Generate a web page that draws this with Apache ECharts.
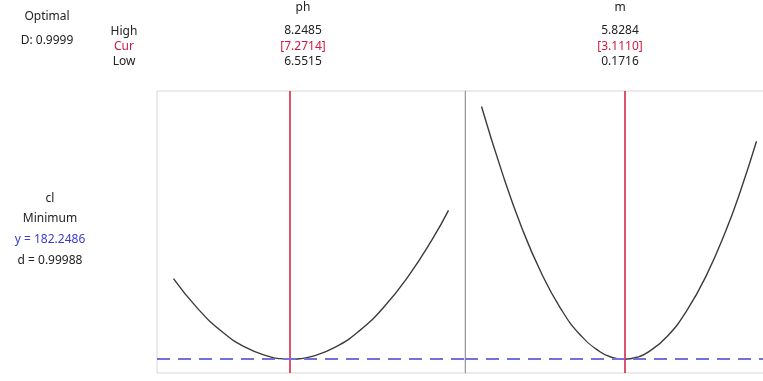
<!DOCTYPE html>
<html>
<head>
<meta charset="utf-8">
<script src="https://cdn.jsdelivr.net/npm/echarts@6/dist/echarts.min.js"></script>
<style>
  html, body { margin: 0; padding: 0; background: #fff; }
  #chart { width: 763px; height: 381px; }
</style>
</head>
<body>
<div id="chart"></div>
<script>
// Factor settings
const factorNames = ['ph', 'm'];
const highVals = [8.2485, 5.8284];
const curVals = [7.2714, 3.1110];
const lowVals = [6.5515, 0.1716];

// Predicted response cl along each factor (other factor held at its current setting)
const phPoints = [6.5515, 6.70, 6.85, 7.00, 7.15, 7.21, 7.2714, 7.33, 7.40, 7.55, 7.70, 7.85, 8.00, 8.15, 8.2485];
const clAlongPh = [278.7, 243.1, 215.4, 196.0, 185.0, 182.95, 182.2486, 182.89, 185.3, 196.7, 216.5, 244.7, 281.3, 326.2, 360.3];
const mPoints = [0.1716, 0.6, 1.0, 1.4, 1.8, 2.2, 2.6, 2.85, 3.1110, 3.37, 3.6, 4.0, 4.4, 4.8, 5.2, 5.5, 5.8284];
const clAlongM = [484.5, 404.8, 339.6, 285.6, 242.9, 211.5, 191.5, 184.65, 182.2486, 184.6, 190.7, 210.1, 240.9, 282.9, 336.3, 383.7, 442.9];

// Response summary
const responseName = 'cl';
const goal = 'Minimum';
const yOpt = 182.2486;
const dIndividual = 0.99988;
const dComposite = 0.9999;

// Shared response axis range
const yRange = [165.8, 503.0];

const FONT = 'Noto Sans';
const W = 763;
const PANEL_W = 308;
const panelLeft = [157, 465];

const chart = echarts.init(document.getElementById('chart'));

// Width actually laid out for a panel: the last one runs past the page edge,
// so its right border stays out of view.
function panelWidth(i) {
  return Math.min(PANEL_W, W - panelLeft[i] + 1);
}

// Each factor axis runs from low to high with 6% padding on both sides of a full panel.
function xRange(i) {
  const span = highVals[i] - lowVals[i];
  const min = lowVals[i] - 0.06 * span;
  const full = 1.12 * span;
  return [min, min + full * panelWidth(i) / PANEL_W];
}

const grids = panelLeft.map((l, i) => ({
  left: l, top: 91, width: panelWidth(i), height: 282,
  outerBoundsMode: 'none', containLabel: false,
  show: true, borderColor: '#d6d6d6', borderWidth: 1, backgroundColor: '#fff'
}));

const xAxes = [0, 1].map(i => ({
  type: 'value', gridIndex: i, min: xRange(i)[0], max: xRange(i)[1],
  axisLine: { show: false, onZero: false }, axisTick: { show: false }, axisLabel: { show: false }, splitLine: { show: false }
}));
// The divider between the two panels is the second panel's response axis line
const yAxes = [0, 1].map(i => ({
  type: 'value', gridIndex: i, min: yRange[0], max: yRange[1],
  axisLine: { show: i === 1, onZero: false, lineStyle: { color: '#9c9c9c', width: 1 } },
  axisTick: { show: false }, axisLabel: { show: false }, splitLine: { show: false }
}));

function curveSeries(i, xs, ys) {
  return {
    type: 'line', xAxisIndex: i, yAxisIndex: i, smooth: true, symbol: 'none',
    data: xs.map((x, k) => [x, ys[k]]),
    lineStyle: { color: '#3c3c3c', width: 1.4 },
    markLine: {
      silent: true, symbol: 'none', label: { show: false },
      data: [
        { xAxis: curVals[i], lineStyle: { color: '#d3183e', width: 1.5, type: 'solid' } },
        { yAxis: yOpt, lineStyle: { color: '#7272d8', width: 2, type: [13, 8] } }
      ]
    },
    z: 3
  };
}

function txt(x, y, s, color, size) {
  return { type: 'text', x: x, y: y, style: { text: s, fill: color || '#222', font: (size || 12) + 'px "' + FONT + '"', textAlign: 'center', textVerticalAlign: 'middle' } };
}

const fmt4 = v => v.toFixed(4);
const headerX = [303, 620];
const graphics = [
  txt(47, 17, 'Optimal'),
  txt(47, 41, 'D: ' + dComposite.toFixed(4)),
  txt(124, 32, 'High'),
  txt(124, 47, 'Cur', '#d3183e'),
  txt(124, 62, 'Low'),
  txt(50, 199, responseName),
  txt(50, 219, goal),
  txt(50, 240, 'y = ' + yOpt.toFixed(4), '#3b3bd0'),
  txt(50, 261, 'd = ' + dIndividual.toFixed(5))
];
factorNames.forEach((name, i) => {
  graphics.push(txt(headerX[i], 8, name));
  graphics.push(txt(headerX[i], 31, fmt4(highVals[i])));
  graphics.push(txt(headerX[i], 46.5, '[' + fmt4(curVals[i]) + ']', '#d3183e'));
  graphics.push(txt(headerX[i], 62, fmt4(lowVals[i])));
});

chart.setOption({
  animation: false,
  backgroundColor: '#fff',
  grid: grids,
  xAxis: xAxes,
  yAxis: yAxes,
  series: [curveSeries(0, phPoints, clAlongPh), curveSeries(1, mPoints, clAlongM)],
  graphic: graphics
});
</script>
</body>
</html>
